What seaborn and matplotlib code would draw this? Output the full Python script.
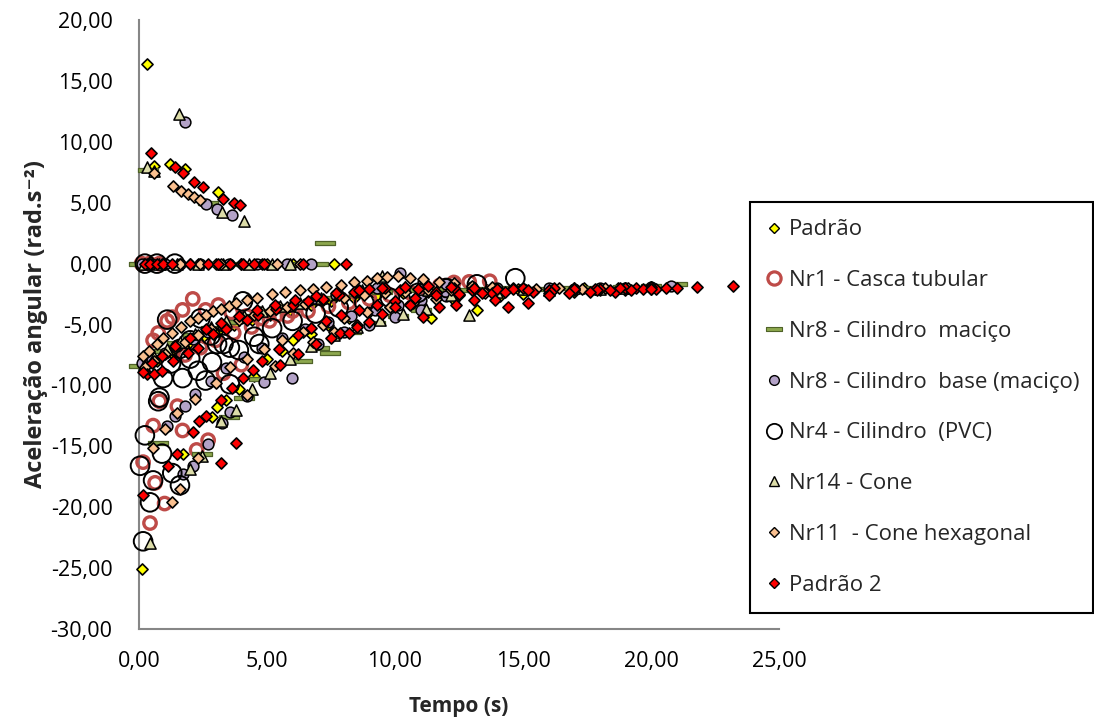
import matplotlib
matplotlib.use("Agg")
import matplotlib.pyplot as plt
import seaborn as sns
import pandas as pd
from matplotlib.path import Path
from matplotlib.lines import Line2D
from matplotlib.ticker import FuncFormatter

# ---------------- data ----------------
labels = ["Padrão", "Nr1 - Casca tubular", "Nr8 - Cilindro  maciço",
          "Nr8 - Cilindro  base (maciço)", "Nr4 - Cilindro  (PVC)",
          "Nr14 - Cone", "Nr11  - Cone hexagonal", "Padrão 2"]

xticks = [0, 5, 10, 15, 20, 25]
yticks = [-30, -25, -20, -15, -10, -5, 0, 5, 10, 15, 20]

padrao_t = [
    0.31, 0.59, 1.2, 1.8, 3.1,
    0.1, 0.5, 1.0, 2.0, 3.0, 4.0, 5.0, 6.0, 7.6,
    0.12, 1.7, 2.85, 3.05, 3.4, 3.9, 4.5, 5.0, 5.6, 6.0,
    6.7, 7.4, 8.2, 9.0, 9.8, 10.6, 11.4, 12.3, 13.2, 14.1,
    15.0, 16.0, 17.0, 18.0, 19.0, 20.0,
    0.2, 0.7, 1.3, 1.9, 2.5, 3.1, 3.7, 4.4, 5.1, 5.9,
    6.7, 7.5, 8.4, 9.3, 10.3, 11.3, 12.4, 13.6, 14.8, 16.1,
    17.4, 18.7,
]
padrao_a = [
    16.4, 8.0, 8.2, 7.8, 5.85,
    0, 0, 0, 0, 0, 0, 0, 0, 0,
    -25.1, -15.6, -12.6, -11.8, -11.2, -10.3, -9.2, -7.8, -7.2, -6.3,
    -5.8, -5.0, -4.5, -4.0, -3.6, -3.3, -4.5, -3.0, -3.8, -2.7,
    -2.5, -2.4, -2.3, -2.2, -2.2, -2.1,
    -8.6, -8.0, -7.3, -6.6, -6.0, -5.5, -5.0, -4.6, -4.2, -3.8,
    -3.4, -3.1, -2.8, -2.6, -2.4, -2.3, -2.2, -2.2, -2.1, -2.1,
    -2.0, -2.0,
]

nr1_t = [
    0.1, 0.4, 0.8,
    0.55, 0.75, 1.1, 1.3, 1.7, 2.1, 2.6, 3.1, 3.6, 4.2, 4.8, 5.4, 6.0,
    0.16, 0.43, 0.55, 0.63, 0.8, 1.0, 1.5, 1.7, 2.25, 2.7, 3.3, 4.0,
    1.8, 2.4, 3.0, 3.7, 4.4, 5.1, 5.8, 6.6, 7.4, 8.2,
    9.0, 9.8, 10.6, 11.2, 11.75, 12.3, 12.9, 13.7,
]
nr1_a = [
    0, 0, 0,
    -6.3, -5.7, -4.7, -4.4, -3.8, -2.9, -3.8, -3.4, -4.0, -4.3, -4.5, -4.2, -3.9,
    -16.3, -21.3, -13.3, -18.0, -11.3, -19.7, -11.7, -13.7, -15.3, -14.5, -9.0, -8.3,
    -7.5, -6.9, -6.3, -5.7, -5.2, -4.7, -4.3, -3.9, -3.5, -3.2,
    -2.9, -2.6, -2.4, -2.0, -1.8, -1.55, -1.5, -1.45,
]

m8_t = [
    0.35, 2.7, 7.25,
    0.0, 0.7, 1.6, 2.6, 3.7, 4.8, 5.9, 7.0,
    0.0, 0.4, 0.9, 1.5, 2.1, 2.8, 3.5, 4.3, 5.1, 5.9,
    6.8, 7.7, 8.6, 9.5, 10.5, 11.5, 12.5, 13.5, 14.5, 15.6,
    16.7, 17.8, 18.9, 20.0, 21.0,
    0.75, 2.45, 3.5, 4.1, 4.7, 6.35, 7.05, 7.45, 8.3, 9.2, 10.1, 11.0,
]
m8_a = [
    7.7, 5.0, 1.7,
    0, 0, 0, 0, 0, 0, 0, 0,
    -8.4, -7.9, -7.2, -6.5, -5.9, -5.3, -4.8, -4.3, -3.9, -3.5,
    -3.1, -2.8, -2.5, -2.3, -2.2, -2.1, -2.2, -2.1, -2.0, -2.1,
    -2.0, -2.0, -1.9, -1.8, -1.7,
    -14.7, -15.6, -12.6, -11.0, -9.5, -8.0, -6.9, -7.3, -5.6, -4.9, -4.3, -3.8,
]

b8_t = [
    1.8, 2.6, 3.06, 3.65,
    0.1, 0.5, 1.0, 1.6, 2.4, 3.5, 4.6, 5.8, 6.7,
    0.1, 0.5, 1.0, 1.5, 2.1, 2.7, 3.3, 4.0, 4.7, 5.4,
    6.1, 6.9, 7.7, 8.5, 9.3, 10.2, 11.1, 12.0, 13.0, 14.0,
    15.0, 16.0, 17.0, 18.0, 19.0, 20.0, 20.8,
    1.1, 1.4, 1.8, 2.2, 2.8, 3.4, 4.1, 4.8, 5.6, 6.5,
    7.4, 8.3, 9.2, 10.1, 11.0, 12.0,
    1.7, 2.1, 2.7, 3.25, 3.55, 4.2, 4.9, 5.98, 7.0, 8.0, 9.0, 10.0, 11.0,
]
b8_a = [
    11.6, 4.9, 4.5, 3.95,
    0, 0, 0, 0, 0, 0, 0, 0, 0,
    -8.2, -7.9, -7.3, -6.8, -6.2, -5.6, -5.1, -4.5, -4.0, -3.6,
    -3.2, -2.9, -2.6, -2.3, -2.0, -0.8, -1.5, -1.7, -1.9, -2.0,
    -2.1, -2.0, -2.1, -2.0, -2.0, -1.9, -1.8,
    -13.3, -12.5, -11.7, -10.7, -9.6, -8.6, -7.7, -6.9, -6.1, -5.4,
    -4.8, -4.3, -3.8, -3.4, -3.0, -2.7,
    -17.3, -16.6, -14.8, -13.1, -12.2, -10.9, -9.7, -9.4, -6.6, -5.6, -5.0, -4.4, -3.8,
]

n4_t = [
    0.23, 0.7, 1.4,
    0.04, 0.16, 0.23, 0.43, 0.55, 0.75, 0.8, 0.9, 0.94, 1.3, 1.6, 1.7, 2.3,
    1.1, 2.4, 4.06, 1.6, 2.0, 2.8, 3.3, 3.9, 4.5, 5.2,
    6.0, 6.9, 7.8, 8.8, 9.8, 10.9, 12.0, 13.2, 14.7,
    1.25, 2.0, 2.85, 3.55, 4.7, 3.55, 3.05, 2.6,
]
n4_a = [
    0, 0, 0,
    -16.6, -22.8, -14.1, -19.6, -17.8, -11.3, -11.0, -15.6, -9.4, -17.2, -18.2, -9.4, -8.8,
    -4.6, -4.5, -3.1, -7.0, -6.3, -5.9, -6.6, -7.1, -6.0, -5.3,
    -4.7, -4.1, -3.6, -3.2, -2.8, -2.4, -2.0, -1.7, -1.2,
    -8.2, -7.8, -8.1, -6.9, -6.6, -9.9, -6.6, -9.6,
]

c14_t = [
    0.31, 0.59, 1.57, 3.26, 4.1,
    0.2, 0.8, 1.5, 2.3, 3.3, 4.3, 5.2, 5.9,
    0.2, 0.6, 1.1, 1.6, 2.2, 2.8, 3.4, 4.1, 4.8, 5.5,
    6.3, 7.1, 7.9, 8.7, 9.5, 10.4, 11.3, 12.2, 12.9, 14.0,
    15.0, 16.0, 17.0, 18.0, 19.0,
    0.43, 2.0, 2.45, 3.2, 3.8, 4.4, 5.1, 5.9, 6.7, 7.6,
    8.5, 9.4, 10.3, 11.2,
]
c14_a = [
    7.9, 7.6, 12.25, 4.2, 3.5,
    0, 0, 0, 0, 0, 0, 0, 0,
    -8.3, -7.7, -7.0, -6.4, -5.8, -5.2, -4.7, -4.3, -3.9, -3.5,
    -3.2, -2.8, -2.5, -2.2, -1.0, -1.9, -2.2, -2.6, -4.2, -2.3,
    -2.1, -2.2, -2.0, -2.1, -2.0,
    -22.9, -16.9, -15.8, -12.9, -12.0, -10.3, -9.0, -7.8, -6.8, -5.9,
    -5.2, -4.6, -4.1, -3.7,
]

h11_t = [
    0.59, 1.33, 1.65, 1.9, 2.15, 2.4,
    0.3, 0.9, 1.6, 2.4, 3.2, 4.0, 4.8, 5.4, 6.3,
    0.15, 0.4, 0.7, 0.95, 1.3, 1.65, 2.0, 2.3, 2.6, 2.9,
    3.2, 3.5, 3.8, 4.2, 4.6, 5.2, 5.7, 6.3, 6.8, 7.3,
    7.9, 8.4, 8.9, 9.3, 9.7, 10.1, 10.6, 11.1, 11.7, 12.3,
    13.0, 13.8, 14.6, 15.5, 16.4, 17.3, 18.2, 19.1, 20.0,
    0.25, 0.6, 1.0, 1.4, 1.8, 2.3, 2.8, 3.3, 3.9, 4.5,
    5.1, 5.8, 6.5, 7.2, 8.0, 8.8, 9.6, 10.4, 11.3, 12.2,
    13.1, 14.0,
    0.55, 1.0, 1.5, 2.2, 3.0, 3.55, 4.2, 4.9, 5.6, 6.4,
    7.2, 8.0, 8.9, 9.8, 10.7, 11.6, 12.5, 13.5,
    1.3, 1.6, 2.3, 4.2, 5.3, 6.0, 6.8, 7.6, 8.5,
]
h11_a = [
    7.4, 6.4, 6.0, 5.75, 5.5, 5.2,
    0, 0, 0, 0, 0, 0, 0, 0, 0,
    -7.6, -7.2, -6.6, -6.1, -5.7, -5.2, -4.7, -4.5, -4.2, -3.9,
    -3.7, -3.5, -3.25, -3.0, -2.8, -2.5, -2.35, -2.2, -2.05, -1.9,
    -1.75, -1.55, -1.4, -1.2, -1.1, -1.0, -1.2, -1.3, -1.5, -1.6,
    -1.8, -1.9, -2.0, -2.1, -2.0, -2.1, -2.0, -2.0, -1.9,
    -8.5, -8.0, -7.4, -6.9, -6.4, -5.9, -5.4, -5.0, -4.6, -4.2,
    -3.9, -3.6, -3.3, -3.0, -2.8, -2.6, -2.4, -2.3, -2.2, -2.2,
    -2.1, -2.1,
    -15.1, -13.6, -12.3, -11.1, -9.8, -8.5, -7.8, -7.0, -6.3, -5.6,
    -5.0, -4.5, -4.0, -3.6, -3.2, -2.9, -2.6, -2.4,
    -19.6, -18.5, -16.0, -10.8, -8.4, -7.3, -6.4, -5.6, -5.0,
]

p2_t = [
    0.47, 1.4, 1.7, 2.16, 2.5, 3.3, 3.7, 3.95,
    0.23, 0.43, 0.7, 0.94, 1.3, 2.0, 2.7, 3.1, 3.55, 4.06,
    4.5, 4.9, 6.4, 8.1,
    0.3, 0.6, 0.9, 1.33, 1.9, 2.3, 2.9, 3.4, 4.2, 4.65,
    5.35, 6.0, 6.6, 7.2, 7.8, 8.4, 9.0, 9.6, 10.2, 10.9,
    11.6, 12.3, 13.0, 13.8, 14.6, 15.4, 16.2, 17.0, 17.8, 18.6,
    19.4, 20.2, 21.0,
    0.15, 0.5, 0.9, 1.4, 2.0, 2.6, 3.2, 3.9, 4.6, 5.3,
    6.1, 6.9, 7.7, 8.6, 9.5, 10.4, 11.3, 12.2, 13.1, 14.0,
    15.0, 16.0, 17.0, 18.0, 19.0, 20.0,
    0.16, 1.13, 1.5, 2.1, 2.35, 2.6, 3.2, 3.65, 4.05, 4.45,
    4.8, 5.45, 6.2, 6.7, 7.3, 7.9, 8.6, 9.3, 10.0, 10.8,
    11.6, 12.5, 13.4, 14.3, 15.2, 16.1, 17.0, 17.9, 18.8, 19.7,
    20.6, 21.8, 23.2,
    5.5, 6.2, 6.9, 7.5, 7.85, 8.2, 8.5, 9.0, 9.5, 10.0,
    10.6, 11.1, 11.7, 12.4, 13.1, 13.9, 14.4, 15.2, 16.0, 16.8,
    17.6, 18.4, 19.2, 20.0,
    3.2, 3.8,
]
p2_a = [
    9.05, 7.9, 7.4, 6.7, 6.3, 5.3, 5.0, 4.8,
    0, 0, 0, 0, 0, 0, 0, 0, 0, 0,
    0, 0, 0, 0,
    -9.1, -9.1, -8.8, -8.0, -7.3, -6.9, -5.8, -5.4, -4.6, -4.25,
    -3.7, -3.4, -3.1, -2.9, -2.6, -2.3, -2.1, -2.0, -2.2, -2.1,
    -2.3, -2.0, -2.2, -2.4, -2.1, -2.3, -2.0, -2.2, -2.1, -2.3,
    -2.0, -2.1, -2.0,
    -8.9, -8.2, -7.6, -6.8, -6.1, -5.4, -4.9, -4.3, -3.8, -3.4,
    -3.0, -2.7, -2.45, -2.2, -2.0, -1.9, -1.8, -1.9, -2.0, -2.1,
    -2.0, -2.2, -2.0, -2.1, -2.0, -1.9,
    -19.0, -16.6, -15.6, -13.8, -12.9, -12.5, -11.2, -10.2, -9.4, -8.7,
    -8.0, -7.0, -5.9, -5.3, -4.7, -4.2, -3.8, -3.4, -3.1, -2.8,
    -2.6, -2.5, -2.4, -2.3, -2.2, -2.3, -2.1, -2.2, -2.0, -2.1,
    -2.0, -1.95, -1.8,
    -8.3, -7.4, -6.6, -6.1, -5.7, -5.7, -5.2, -4.8, -4.1, -3.6,
    -3.4, -4.4, -3.6, -3.4, -3.0, -3.0, -3.6, -3.2, -2.6, -2.4,
    -2.3, -2.2, -2.2, -2.1,
    -16.4, -14.7,
]

# ---------------- styling ----------------
sns.set_theme(style="white")
plt.rcParams["font.family"] = ["Open Sans", "DejaVu Sans"]

W, H = 1094, 719
fig = plt.figure(figsize=(W / 100, H / 100), dpi=100)
ax = fig.add_axes([139 / W, 1 - 629 / H, 640 / W, 609 / H])

dash = Path([(-1, -0.24), (1, -0.24), (1, 0.24), (-1, 0.24), (-1, -0.24)],
            [Path.MOVETO, Path.LINETO, Path.LINETO, Path.LINETO, Path.CLOSEPOLY])

BROWN = "#BE4B48"
GREEN = "#8DA84E"
styles = [
    dict(t=padrao_t, a=padrao_a, marker="D", s=32, fc="#FFFF00", ec="black", lw=1.2,
         lms=5.5, lmew=1.0),
    dict(t=nr1_t, a=nr1_a, marker="o", s=80, fc="none", ec=BROWN, lw=2.4,
         lms=9.5, lmew=2.3),
    dict(t=m8_t, a=m8_a, marker=dash, s=200, fc=GREEN, ec="#4F6228", lw=0.9,
         lms=12, lmew=0.8),
    dict(t=b8_t, a=b8_a, marker="o", s=60, fc="#B3A2C7", ec="black", lw=1.1,
         lms=7, lmew=1.0),
    dict(t=n4_t, a=n4_a, marker="o", s=180, fc="none", ec="black", lw=1.4,
         lms=11, lmew=1.3),
    dict(t=c14_t, a=c14_a, marker="^", s=65, fc="#DCDCA8", ec="black", lw=1.1,
         lms=7, lmew=1.0),
    dict(t=h11_t, a=h11_a, marker="D", s=32, fc="#FAC090", ec="black", lw=1.2,
         lms=5.5, lmew=1.0),
    dict(t=p2_t, a=p2_a, marker="D", s=32, fc="#FF0000", ec="black", lw=1.2,
         lms=5.5, lmew=1.0),
]

handles = []
for lab, st in zip(labels, styles):
    assert len(st["t"]) == len(st["a"]), lab
    df = pd.DataFrame({"t": st["t"], "a": st["a"]})
    sns.scatterplot(data=df, x="t", y="a", ax=ax, marker=st["marker"], s=st["s"],
                    color=("white" if st["fc"] == "none" else st["fc"]),
                    edgecolor=st["ec"], linewidth=st["lw"], legend=False,
                    zorder=3, clip_on=False)
    pc = ax.collections[-1]
    if st["fc"] == "none":
        pc.set_facecolor("none")
    pc.set_edgecolor(st["ec"])
    handles.append(Line2D([], [], linestyle="none", marker=st["marker"],
                          markersize=st["lms"], markerfacecolor=st["fc"],
                          markeredgecolor=st["ec"], markeredgewidth=st["lmew"]))

ax.set_xlim(xticks[0], xticks[-1])
ax.set_ylim(yticks[0], yticks[-1])
ax.set_xticks(xticks)
ax.set_yticks(yticks)
fmt = FuncFormatter(lambda v, p: f"{v:.2f}".replace(".", ","))
ax.xaxis.set_major_formatter(fmt)
ax.yaxis.set_major_formatter(fmt)
ax.tick_params(axis="both", length=0, labelsize=15.5, labelcolor="black")
ax.tick_params(axis="y", pad=19)
ax.tick_params(axis="x", pad=16)
for side in ["top", "right"]:
    ax.spines[side].set_visible(False)
for side in ["left", "bottom"]:
    ax.spines[side].set_color("#868686")
    ax.spines[side].set_linewidth(1.5)
ax.grid(False)

ax.set_xlabel("Tempo (s)", fontsize=15, fontweight="bold", labelpad=17)
ax.set_ylabel("Aceleração angular (rad.s⁻²)", fontsize=17, fontweight="bold",
              labelpad=2, family=["Open Sans", "DejaVu Sans"])

leg = fig.legend(handles, labels, loc="upper left",
                 bbox_to_anchor=(750 / W, 1 - 608 / H, 343 / W, 406 / H),
                 mode="expand", borderaxespad=0, fontsize=16,
                 frameon=True, fancybox=False, edgecolor="black", framealpha=1,
                 borderpad=0.78, labelspacing=1.34, handlelength=0.56,
                 handletextpad=0.42)
leg.get_frame().set_linewidth(1.5)

fig.savefig("out.png", dpi=100)
